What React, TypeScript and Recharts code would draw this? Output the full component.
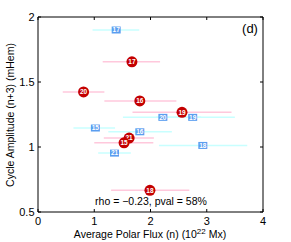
import React from "react";
import { ScatterChart, Scatter, XAxis, YAxis, ErrorBar } from "recharts";

// red circles: cycle amplitude (n+3) vs polar flux (n)
const redCycles = ["17", "20", "16", "19", "21", "15", "18"];
const redFlux = [1.67, 0.81, 1.81, 2.56, 1.62, 1.53, 1.99];
const redAmp = [1.655, 1.424, 1.354, 1.267, 1.069, 1.032, 0.667];
const redLow = [1.15, 0.44, 1.18, 1.68, 1.17, 1.0, 1.3];
const redHigh = [2.17, 1.18, 2.46, 3.44, 2.06, 2.05, 2.69];

// blue squares
const blueCycles = ["17", "20", "19", "15", "16", "18", "21"];
const blueFlux = [1.39, 2.22, 2.75, 1.02, 1.81, 2.93, 1.36];
const blueAmp = [1.9, 1.228, 1.228, 1.146, 1.117, 1.012, 0.953];
const blueLow = [0.97, 1.51, 2.1, 0.63, 1.25, 2.15, 1.07];
const blueHigh = [1.8, 2.9, 3.5, 1.37, 2.38, 3.72, 1.65];

const xTicks = [0, 1, 2, 3, 4];
const yTicks = [0.5, 1, 1.5, 2];

const FONT = "'Liberation Sans', Arial, Helvetica, sans-serif";

function build(cycles: string[], xs: number[], ys: number[], lo: number[], hi: number[]) {
  return cycles.map((c, i) => ({
    cycle: c,
    x: xs[i],
    y: ys[i],
    err: [xs[i] - lo[i], hi[i] - xs[i]],
  }));
}

const redData = build(redCycles, redFlux, redAmp, redLow, redHigh);
const blueData = build(blueCycles, blueFlux, blueAmp, blueLow, blueHigh);

const RedDot = (props: any) => {
  const { cx, cy, payload } = props;
  return (
    <g>
      <circle cx={cx} cy={cy} r={5.5} fill="#c40000" />
      <text
        x={cx}
        y={cy + 2.3}
        textAnchor="middle"
        fontSize={6.5}
        fontWeight="bold"
        fill="#fff"
        fontFamily={FONT}
      >
        {payload.cycle}
      </text>
    </g>
  );
};

const BlueSquare = (props: any) => {
  const { cx, cy, payload } = props;
  return (
    <g>
      <rect x={cx - 4.5} y={cy - 3.5} width={9} height={7} fill="#5b9ef0" />
      <text
        x={cx}
        y={cy + 2.3}
        textAnchor="middle"
        fontSize={6.5}
        fontWeight="bold"
        fill="#fff"
        fontFamily={FONT}
      >
        {payload.cycle}
      </text>
    </g>
  );
};

const NoShape = () => <g />;

const tickStyle = { fontSize: 11, fill: "#000", fontFamily: FONT };

export default function App() {
  return (
    <div style={{ position: "absolute", left: 0, top: 0, width: 291, height: 242, background: "#fff" }}>
      <ScatterChart width={291} height={242} margin={{ top: 16, right: 27, left: 0, bottom: 0 }}>
        <XAxis
          type="number"
          dataKey="x"
          domain={[0, 4]}
          ticks={xTicks}
          height={30}
          tickSize={-3}
          tickMargin={8}
          stroke="#000"
          tick={tickStyle}
          allowDataOverflow
        />
        <XAxis
          xAxisId="top"
          type="number"
          dataKey="x"
          orientation="top"
          domain={[0, 4]}
          ticks={xTicks}
          height={1}
          tickSize={-3}
          tickFormatter={() => ""}
          stroke="#000"
          allowDataOverflow
        />
        <YAxis
          type="number"
          dataKey="y"
          domain={[0.5, 2]}
          ticks={yTicks}
          width={38}
          tickSize={-3}
          tickMargin={6.5}
          stroke="#000"
          tick={tickStyle}
          allowDataOverflow
        />
        <YAxis
          yAxisId="right"
          type="number"
          dataKey="y"
          orientation="right"
          domain={[0.5, 2]}
          ticks={yTicks}
          width={1}
          tickSize={-3}
          tickFormatter={() => ""}
          stroke="#000"
          allowDataOverflow
        />
        {/* invisible series so the frame axes get a domain */}
        <Scatter
          data={redData}
          xAxisId="top"
          yAxisId="right"
          shape={<NoShape />}
          isAnimationActive={false}
        />
        <Scatter data={redData} shape={<RedDot />} isAnimationActive={false}>
          <ErrorBar dataKey="err" direction="x" width={0} stroke="#ffc8dc" strokeWidth={1.5} />
        </Scatter>
        <Scatter data={blueData} shape={<BlueSquare />} isAnimationActive={false}>
          <ErrorBar dataKey="err" direction="x" width={0} stroke="#c8ffff" strokeWidth={1.5} />
        </Scatter>
      </ScatterChart>
      <svg
        width={291}
        height={242}
        style={{ position: "absolute", left: 0, top: 0, pointerEvents: "none" }}
        fontFamily={FONT}
      >
        <text x={250} y={33} textAnchor="middle" fontSize={13} fill="#000">
          (d)
        </text>
        <text x={151} y={205} textAnchor="middle" fontSize={10.5} fill="#000">
          rho = −0.23, pval = 58%
        </text>
        <text x={150} y={238} textAnchor="middle" fontSize={10.5} fill="#000">
          Average Polar Flux (n) (10
          <tspan fontSize={8} dy={-4}>22</tspan>
          <tspan dy={4}> Mx)</tspan>
        </text>
        <text
          x={14}
          y={115}
          textAnchor="middle"
          fontSize={10.5}
          fill="#000"
          transform="rotate(-90 14 115)"
        >
          Cycle Amplitude (n+3) (mHem)
        </text>
      </svg>
    </div>
  );
}
